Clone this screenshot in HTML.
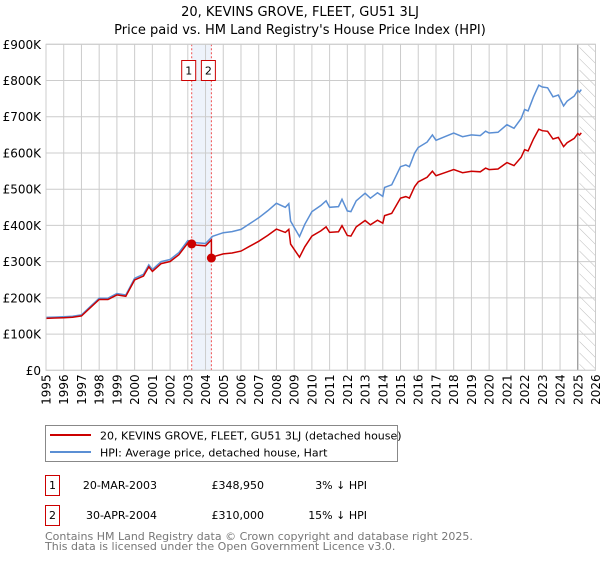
<!DOCTYPE html>
<html><head><meta charset="utf-8"><style>
body{margin:0;background:#fff;font-family:"DejaVu Sans","Liberation Sans",sans-serif;}
svg text{font-family:"DejaVu Sans","Liberation Sans",sans-serif;}
</style></head><body>
<svg id="c" width="600" height="560" xmlns="http://www.w3.org/2000/svg">
<text x="300" y="16" text-anchor="middle" font-size="13">20, KEVINS GROVE, FLEET, GU51 3LJ</text>
<text x="300" y="34" text-anchor="middle" font-size="13">Price paid vs. HM Land Registry's House Price Index (HPI)</text>
<g id="plot"></g>
<g>
<rect x="45.5" y="425.5" width="352" height="36" fill="#fff" stroke="#888"/>
<line x1="50" y1="435" x2="91" y2="435" stroke="#cc0000" stroke-width="2"/>
<text x="100" y="439.5" font-size="11">20, KEVINS GROVE, FLEET, GU51 3LJ (detached house)</text>
<line x1="50" y1="452" x2="91" y2="452" stroke="#5b8fd4" stroke-width="2"/>
<text x="100" y="456.5" font-size="11">HPI: Average price, detached house, Hart</text>
</g>
<g font-size="11">
<rect x="45.5" y="475.5" width="14" height="20" fill="#fff" stroke="#cc0000"/>
<text x="52.5" y="489" text-anchor="middle">1</text>
<text x="157" y="489" text-anchor="end">20-MAR-2003</text>
<text x="264" y="489" text-anchor="end">£348,950</text>
<text x="367" y="489" text-anchor="end">3% ↓ HPI</text>
<rect x="45.5" y="505.5" width="14" height="20" fill="#fff" stroke="#cc0000"/>
<text x="52.5" y="519" text-anchor="middle">2</text>
<text x="157" y="519" text-anchor="end">30-APR-2004</text>
<text x="264" y="519" text-anchor="end">£310,000</text>
<text x="367" y="519" text-anchor="end">15% ↓ HPI</text>
</g>
<text x="45" y="540" font-size="11" fill="#777">Contains HM Land Registry data © Crown copyright and database right 2025.</text>
<text x="45" y="550" font-size="11" fill="#777">This data is licensed under the Open Government Licence v3.0.</text>
</svg>
<script>
const yTicks=[0,100,200,300,400,500,600,700,800,900];
const yTickLabels=["£0","£100K","£200K","£300K","£400K","£500K","£600K","£700K","£800K","£900K"];
const xYears=[1995,1996,1997,1998,1999,2000,2001,2002,2003,2004,2005,2006,2007,2008,2009,2010,2011,2012,2013,2014,2015,2016,2017,2018,2019,2020,2021,2022,2023,2024,2025,2026];
const hpiDates=[1995.0,1995.5,1996,1996.5,1997,1997.5,1998,1998.5,1999,1999.5,2000,2000.5,2000.8,2001,2001.5,2002,2002.5,2003,2003.5,2004,2004.4,2005,2005.5,2006,2006.5,2007,2007.5,2008,2008.5,2008.7,2008.8,2009.3,2009.6,2010,2010.5,2010.8,2011,2011.5,2011.7,2012,2012.2,2012.5,2013,2013.3,2013.7,2014,2014.1,2014.5,2015,2015.3,2015.5,2015.8,2016,2016.5,2016.8,2017,2017.5,2018,2018.5,2019,2019.5,2019.8,2020,2020.5,2021,2021.4,2021.8,2022,2022.2,2022.5,2022.8,2023,2023.3,2023.6,2023.9,2024.2,2024.4,2024.8,2025,2025.1,2025.2];
const hpiValues=[146,147,148,149,153,176,199,199,212,208,254,265,291,278,300,306,325,358,352,350,370,380,383,389,405,421,440,461,450,460,412,369,403,438,455,468,450,452,472,440,438,468,489,475,490,480,505,512,562,567,562,600,615,630,650,635,645,655,645,650,648,660,655,657,678,668,695,720,716,755,787,782,780,755,760,730,743,757,773,768,775];
const saleDates=[2003.22,2004.33];
const salePrices=[348.95,310];
const saleLabels=["1","2"];
const NS="http://www.w3.org/2000/svg";
const L=46,R=595.5,T=44.3,B=370.3;
const X=y=>L+(y-1995)/31*(R-L);
const Y=v=>B-v/900*(B-T);
const g=document.getElementById('plot');
function mk(t,a,p){const e=document.createElementNS(NS,t);for(const k in a)e.setAttribute(k,a[k]);(p||g).appendChild(e);return e;}
function hpiAt(d){for(let i=1;i<hpiDates.length;i++){if(d<=hpiDates[i]){const f=(d-hpiDates[i-1])/(hpiDates[i]-hpiDates[i-1]);return hpiValues[i-1]+f*(hpiValues[i]-hpiValues[i-1]);}}return hpiValues[hpiValues.length-1];}
let sh=mk('rect',{x:X(saleDates[0]),y:T,width:X(saleDates[1])-X(saleDates[0]),height:B-T,fill:'#eef3fb'});


const defs=mk('defs',{});
const pat=mk('pattern',{id:'h',width:8,height:8,patternUnits:'userSpaceOnUse',patternTransform:'rotate(-45)'},defs);
mk('line',{x1:0,y1:0,x2:0,y2:8,stroke:'#bbb','stroke-width':1},pat);
const fut=2025.1;
let hr=mk('rect',{x:X(fut),y:T,width:R-X(fut),height:B-T,fill:'url(#h)'});


xYears.forEach(yr=>{const l=mk('line',{x1:X(yr),x2:X(yr),y1:T,y2:B,stroke:'#ccc'});


const t=mk('text',{x:0,y:0,'font-size':12,'text-anchor':'end',transform:`translate(${X(yr)+4.5},${B+4}) rotate(-90)`});t.textContent=yr;

});
yTicks.forEach((v,i)=>{const l=mk('line',{x1:L,x2:R,y1:Y(v),y2:Y(v),stroke:'#ccc'});


const t=mk('text',{x:L-5,y:Y(v)+4.5,'font-size':12,'text-anchor':'end'});t.textContent=yTickLabels[i];

});
let vl=mk('line',{x1:X(2025.0),x2:X(2025.0),y1:T,y2:B,stroke:'#888'});


saleDates.forEach((d,i)=>{const l=mk('line',{x1:X(d),x2:X(d),y1:T,y2:B,stroke:'#f05050','stroke-dasharray':'2,2'});


const bx=X(d)-3-7;
const r=mk('rect',{x:bx,y:60.5,width:14,height:20,fill:'#fff',stroke:'#cc0000'});


const t=mk('text',{x:bx+7,y:74.5,'font-size':11,'text-anchor':'middle'});t.textContent=saleLabels[i];

});
let p='';hpiDates.forEach((d,i)=>{p+=(i?'L':'M')+X(d).toFixed(1)+','+Y(hpiValues[i]).toFixed(1);});
let hl=mk('path',{d:p,fill:'none',stroke:'#5b8fd4','stroke-width':1.5});


const r1=salePrices[0]/hpiAt(saleDates[0]),r2=salePrices[1]/hpiAt(saleDates[1]);
let q='';let first=true;
const pts=[];
hpiDates.forEach((d,i)=>{if(d<saleDates[1])pts.push([d,hpiValues[i]*r1]);});
pts.push([saleDates[1]-0.001,hpiAt(saleDates[1])*r1]);
pts.push([saleDates[1],salePrices[1]]);
hpiDates.forEach((d,i)=>{if(d>saleDates[1])pts.push([d,hpiValues[i]*r2]);});
pts.forEach(pt=>{q+=(first?'M':'L')+X(pt[0]).toFixed(1)+','+Y(pt[1]).toFixed(1);first=false;});
let pl=mk('path',{d:q,fill:'none',stroke:'#cc0000','stroke-width':1.5});


saleDates.forEach((d,i)=>{const c=mk('circle',{cx:X(d),cy:Y(salePrices[i]),r:4.5,fill:'#cc0000'});

});
let ax=mk('rect',{x:L,y:T,width:R-L,height:B-T,fill:'none',stroke:'#ccc'});


</script>
</body></html>
